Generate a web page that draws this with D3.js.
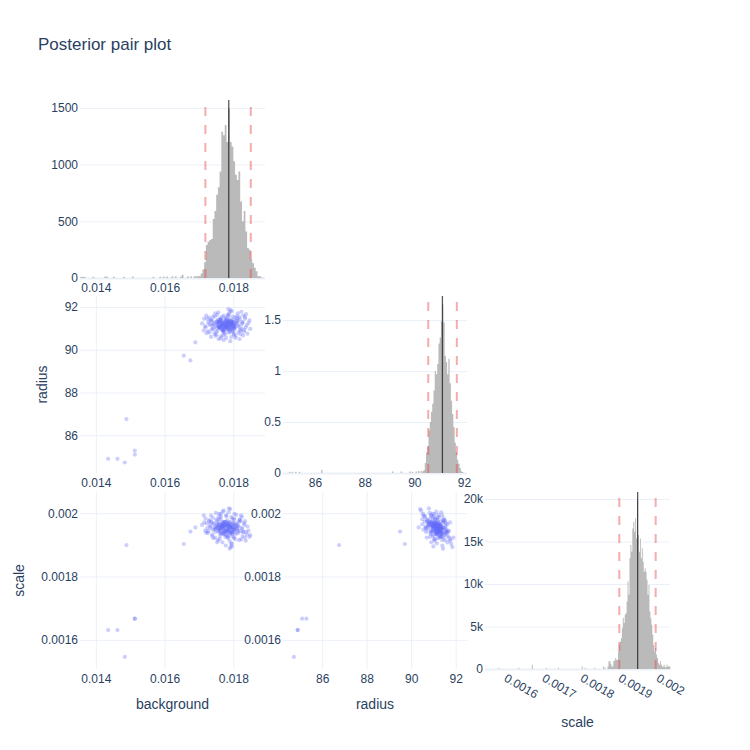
<!DOCTYPE html>
<html><head><meta charset="utf-8">
<script src="https://cdn.jsdelivr.net/npm/d3@7"></script>
<style>body{margin:0;background:#fff}svg{display:block}</style>
</head><body><svg id="c" width="750" height="750"></svg>
<script>
// ---------- data ----------
const params = ["background", "radius", "scale"];
const title = "Posterior pair plot";

// posterior samples shown in the scatter panels
const bgPts = [
0.01784,0.01759,0.01809,0.01771,0.01791,0.01744,0.01819,0.01779,0.01764,0.01801,
0.01734,0.01797,0.01774,0.01834,0.01751,0.01787,0.01767,0.01812,0.01729,0.01781,
0.01804,0.01761,0.01824,0.01741,0.01794,0.01777,0.01839,0.01754,0.01789,0.01719,
0.01814,0.01769,0.01799,0.01749,0.01779,0.01827,0.01737,0.01785,0.01757,0.01807,
0.01773,0.01817,0.01724,0.01793,0.01763,0.01831,0.01747,0.01782,0.01805,0.01731,
0.01844,0.01765,0.01797,0.01739,0.01788,0.01776,0.01821,0.01753,0.01809,0.01714,
0.01795,0.01770,0.01815,0.01759,0.01783,0.01829,0.01743,0.01803,0.01767,0.01849,
0.01727,0.01790,0.01755,0.01811,0.01772,0.01825,0.01735,0.01792,0.01761,0.01786,
0.01721,0.01806,0.01775,0.01841,0.01749,0.01798,0.01768,0.01819,0.01733,0.01780,
0.01813,0.01752,0.01802,0.01709,0.01836,0.01763,0.01791,0.01745,0.01823,0.01778,
0.01800,0.01740,0.01796,0.01756,0.01832,0.01771,0.01808,0.01718,0.01784,0.01760,
0.01818,0.01730,0.01794,0.01766,0.01847,0.01748,0.01787,0.01738,0.01810,0.01774,
0.01826,0.01758,0.01805,0.01722,0.01789,0.01764,0.01816,0.01746,0.01781,0.01837,
0.01753,0.01799,0.01735,0.01793,0.01777,0.01828,0.01742,0.01785,0.01769,0.01815,
0.01726,0.01803,0.01750,0.01822,0.01772,0.01796,0.01715,0.01782,0.01834,0.01757,
0.01782,0.01773,0.01789,0.01767,0.01794,0.01777,0.01799,0.01761,0.01785,0.01770,
0.01791,0.01757,0.01779,0.01803,0.01765,0.01787,0.01775,0.01796,0.01754,0.01781,
0.01769,0.01792,0.01772,0.01800,0.01763,0.01784,0.01759,0.01788,0.01778,0.01797,
0.01766,0.01783,0.01771,0.01793,0.01756,0.01790,0.01774,0.01801,0.01768,0.01780,
0.01795,0.01760,0.01786,0.01776,0.01798,0.01764,0.01789,0.01773,0.01805,0.01758,
0.01782,0.01770,0.01792,0.01762,0.01785,0.01767,0.01802,0.01779,0.01753,0.01788,
0.014358,0.014629,0.014843,0.014890,0.015134,0.015134,0.016558,0.016751,0.016895];
const radiusPts = [
91.05,91.30,91.37,90.85,91.20,91.03,90.90,91.50,91.15,90.75,
91.35,91.25,91.10,91.45,90.70,91.65,90.97,91.23,91.20,90.93,
91.07,91.43,91.00,91.55,90.60,91.33,91.15,90.87,91.75,91.05,
90.80,91.23,91.40,91.13,90.55,91.30,90.95,91.57,91.27,90.65,
90.77,91.53,91.45,91.10,90.53,90.85,91.70,91.17,91.03,90.80,
91.25,91.37,90.87,91.15,90.99,91.45,90.73,91.63,91.33,90.90,
91.80,90.67,91.12,91.07,91.27,91.60,91.25,90.95,91.53,90.97,
91.30,90.83,91.40,91.47,90.45,91.20,90.60,91.85,91.00,91.35,
91.60,90.55,91.15,90.75,90.83,91.55,90.90,91.43,91.15,91.03,
91.70,91.33,90.70,91.23,91.05,91.47,90.40,90.75,91.77,91.40,
91.13,90.97,91.30,91.75,90.93,90.87,91.23,91.10,91.63,91.07,
90.50,91.50,91.15,91.20,91.37,90.65,90.80,91.37,91.57,90.95,
91.27,91.05,91.50,90.77,91.43,90.63,91.07,91.55,91.25,91.67,
91.00,90.85,91.40,91.33,90.73,90.67,91.20,91.90,91.13,91.35,
90.87,91.15,91.30,90.90,91.60,91.00,91.45,91.10,91.53,90.50,
91.19,91.07,91.27,91.17,91.01,91.33,91.21,91.11,90.95,91.25,
91.15,91.29,91.03,91.09,91.37,91.23,90.99,91.31,91.13,91.39,
90.93,91.18,91.21,91.05,91.24,91.12,91.34,90.97,91.15,91.26,
91.06,91.30,90.90,91.35,91.19,91.08,91.28,91.00,91.16,91.04,
91.22,91.01,91.36,91.10,91.14,91.32,90.91,91.24,91.20,91.05,
91.27,91.13,90.96,91.38,91.17,90.98,91.29,91.07,91.23,91.33,
84.90,84.90,84.73,86.76,85.29,85.10,89.72,89.50,90.34];
const scalePts = [
0.001961,0.001948,0.001935,0.001973,0.001956,0.001968,0.001943,0.001931,0.001953,0.001978,
0.001958,0.001941,0.001963,0.001923,0.001981,0.001928,0.001959,0.001950,0.001975,0.001945,
0.001965,0.001938,0.001953,0.001948,0.001988,0.001925,0.001933,0.001955,0.001913,0.001983,
0.001961,0.001968,0.001948,0.001941,0.001993,0.001928,0.001971,0.001943,0.001988,0.001958,
0.001965,0.001915,0.001953,0.001935,0.001998,0.001968,0.001923,0.001978,0.001918,0.001963,
0.001945,0.001957,0.001983,0.001933,0.001951,0.001973,0.001975,0.001908,0.001963,0.001993,
0.001903,0.001953,0.001938,0.001981,0.001923,0.001941,0.001965,0.001998,0.001961,0.001931,
0.001943,0.001971,0.001915,0.001953,0.002008,0.001988,0.001973,0.001893,0.001928,0.002003,
0.001938,0.001948,0.001968,0.001958,0.002001,0.001933,0.001908,0.001978,0.001953,0.001991,
0.001945,0.001975,0.001923,0.001963,0.001913,0.001983,0.002013,0.001948,0.001918,0.001898,
0.001955,0.001985,0.001938,0.001971,0.001963,0.001935,0.001995,0.001945,0.001965,0.001918,
0.001981,0.001978,0.001905,0.001958,0.001925,0.001953,0.002015,0.001928,0.001968,0.001943,
0.001951,0.001998,0.001938,0.001968,0.001888,0.001991,0.001973,0.001955,0.001931,0.001941,
0.001961,0.001925,0.001993,0.001953,0.001973,0.001941,0.001921,0.001923,0.002005,0.001958,
0.001938,0.001983,0.001951,0.001993,0.001945,0.001895,0.001971,0.001961,0.001975,0.001965,
0.001950,0.001958,0.001945,0.001963,0.001959,0.001941,0.001955,0.001947,0.001967,0.001953,
0.001938,0.001961,0.001971,0.001949,0.001935,0.001957,0.001943,0.001965,0.001955,0.001951,
0.001973,0.001962,0.001939,0.001969,0.001956,0.001945,0.001948,0.001960,0.001965,0.001941,
0.001968,0.001947,0.001963,0.001953,0.001943,0.001957,0.001959,0.001951,0.001937,0.001961,
0.001943,0.001965,0.001945,0.001955,0.001967,0.001951,0.001971,0.001933,0.001959,0.001953,
0.001963,0.001949,0.001957,0.001939,0.001969,0.001959,0.001947,0.001941,0.001962,0.001937,
0.001631,0.001631,0.001546,0.0018995,0.001667,0.001667,0.0019027,0.001942,0.001955];

// histogram of background (counts)
const bgBinStart = 0.01700, bgBinWidth = 0.00005;
const bgCounts = [15,40,75,140,290,320,335,345,520,590,735,800,940,1290,1260,1350,1200,1495,1200,1160,
  1030,910,865,940,675,500,590,410,265,250,160,130,90,60,15,15,5,3];
const bgTailX = [0.01355,0.01360,0.01365,0.01390,0.01425,0.01430,0.01450,0.01480,0.01505,0.01565,0.01585,
  0.01595,0.01605,0.01620,0.01630,0.01645,0.01650,0.01665,0.01675,0.01685,0.01690,0.01695];
const bgTailCounts = [10,10,10,10,12,12,10,10,12,10,10,12,12,14,14,12,28,14,14,16,14,18];

// histogram of radius (probability density)
const radiusBinStart = 90.32, radiusBinWidth = 0.05;
const radiusDens = [0.016,0.03,0.097,0.2,0.26,0.42,0.5,0.6,0.68,0.81,1.0,0.97,1.07,1.27,1.33,1.49,1.654,
  1.48,1.15,1.09,0.97,1.12,0.88,0.71,0.58,0.45,0.3,0.2,0.13,0.09,0.05,0.016,0.01];
const radiusTailX = [84.95,85.05,85.20,85.35,86.25,89.10,89.45,89.80,89.90,90.05,90.15,90.25];
const radiusTailDens = [0.012,0.012,0.012,0.012,0.03,0.015,0.015,0.015,0.012,0.015,0.02,0.02];

// histogram of scale (counts)
const scaleBinStart = 0.00187, scaleBinWidth = 0.0000025;
const scaleCounts = [300,900,900,600,300,300,900,1000,1280,1100,1100,2070,2850,3200,3630,4800,6000,5400,
  6370,6570,7930,10280,8720,13020,14580,13800,16540,17320,16150,17720,15360,19830,15760,13800,15360,13020,
  14200,12630,11450,11840,11450,10500,8720,9890,6760,5980,5200,4030,2850,2070,2460,1680,1280,700,500,900,
  500,300,300,500,200,200,500,300,300,300];
const scaleTailX = [0.001583,0.001636,0.001671,0.001708,0.001740,0.001802,0.001810,0.001835,0.001858,0.001862];
const scaleTailCounts = [150,150,500,120,150,300,150,150,300,200];

// quantile lines: [low, median, high]
const bgLines = [0.017186, 0.017866, 0.018506];
const radiusLines = [90.56, 91.13, 91.71];
const scaleLines = [0.0019008, 0.001949, 0.0019963];

// ticks
const bgTicks = [0.014, 0.016, 0.018], bgTickLabels = ["0.014", "0.016", "0.018"];
const radiusTicks = [86, 88, 90, 92], radiusTickLabels = ["86", "88", "90", "92"];
const scaleTicks = [0.0016, 0.0018, 0.002], scaleTickLabels = ["0.0016", "0.0018", "0.002"];
const scaleHistTicks = [0.0016, 0.0017, 0.0018, 0.0019, 0.002];
const scaleHistTickLabels = ["0.0016", "0.0017", "0.0018", "0.0019", "0.002"];
const bgCountTicks = [0, 500, 1000, 1500], bgCountLabels = ["0", "500", "1000", "1500"];
const radiusDensTicks = [0, 0.5, 1, 1.5], radiusDensLabels = ["0", "0.5", "1", "1.5"];
const scaleCountTicks = [0, 5000, 10000, 15000, 20000], scaleCountLabels = ["0", "5k", "10k", "15k", "20k"];

// ---------- layout ----------
const FONT = '"Liberation Sans", Arial, sans-serif';
const TXT = "#2a3f5f", GRID = "#EBF0F8", BAR = "#bababa", RED = "rgba(230,70,70,0.45)", DOT = "#636efa";
const cols = [[80, 265], [283, 467], [485, 670]];
const rows = [[100, 278], [296, 473], [492, 669]];
const svg = d3.select("#c");

const bgDom = [0.01354, 0.01892], rDom = [84.24, 92.51], sDom = [0.001508, 0.002067];
const xBg = d3.scaleLinear().domain(bgDom).range(cols[0]);
const xR = d3.scaleLinear().domain(rDom).range(cols[1]);
const yR = d3.scaleLinear().domain(rDom).range([rows[1][1], rows[1][0]]);
const yS = d3.scaleLinear().domain(sDom).range([rows[2][1], rows[2][0]]);
const hxBg = d3.scaleLinear().domain(bgDom).range(cols[0]);
const hyBg = d3.scaleLinear().domain([0, 1570]).range([rows[0][1], rows[0][0]]);
const hxR = d3.scaleLinear().domain([84.71, 92.12]).range(cols[1]);
const hyR = d3.scaleLinear().domain([0, 1.737]).range([rows[1][1], rows[1][0]]);
const hxS = d3.scaleLinear().domain([0.001548, 0.002034]).range(cols[2]);
const hyS = d3.scaleLinear().domain([0, 20820]).range([rows[2][1], rows[2][0]]);

function styleAxis(g) {
  g.attr("font-family", null).attr("font-size", null);
  g.select(".domain").remove();
  g.selectAll(".tick line").attr("stroke", GRID).attr("stroke-width", 1);
  g.selectAll(".tick text").attr("fill", TXT).attr("font-size", 12).attr("font-family", FONT);
}

function drawAxes(ci, ri, x, y, o) {
  const [x0, x1] = cols[ci], [y0, y1] = rows[ri];
  const gy = svg.append("g").attr("transform", `translate(${x0},0)`)
    .call(d3.axisLeft(y).tickValues(o.yTicks).tickFormat((d, i) => o.yLabels[i])
      .tickSize(-(x1 - x0)).tickPadding(2));
  styleAxis(gy);
  gy.selectAll(".tick line").filter(d => d === 0).attr("stroke-width", 2);
  const gx = svg.append("g").attr("transform", `translate(0,${y1})`)
    .call(d3.axisBottom(x).tickValues(o.xTicks).tickFormat((d, i) => o.xLabels[i])
      .tickSize(o.xGrid ? -(y1 - y0) : 0).tickPadding(5.5));
  styleAxis(gx);
  if (!o.xGrid) gx.selectAll(".tick line").remove();
  if (o.rotate) {
    gx.selectAll(".tick text").attr("text-anchor", "start").attr("x", -2).attr("y", 11.5)
      .attr("dy", null).attr("transform", "rotate(30,-2,11.5)");
  }
}

function drawHist(x, y, start, width, vals, tailX, tailV) {
  const g = svg.append("g");
  const pts = vals.map((v, i) => [start + i * width, v]);
  pts.push([start + vals.length * width, vals[vals.length - 1]]);
  const area = d3.area().x(d => x(d[0])).y0(y(0)).y1(d => y(d[1])).curve(d3.curveStepAfter);
  g.append("path").attr("d", area(pts)).attr("fill", BAR);
  g.selectAll("rect").data(tailX.map((t, i) => ({ x0: t, v: tailV[i] }))).join("rect")
    .attr("x", d => x(d.x0))
    .attr("width", d => Math.max(0.8, x(d.x0 + width) - x(d.x0)))
    .attr("y", d => y(d.v))
    .attr("height", d => y(0) - y(d.v))
    .attr("fill", BAR);
}

function drawLines(ri, x, L) {
  const [y0, y1] = rows[ri];
  [L[0], L[2]].forEach(v => svg.append("line")
    .attr("x1", x(v)).attr("x2", x(v)).attr("y1", y1).attr("y2", y0)
    .attr("stroke", RED).attr("stroke-width", 2).attr("stroke-dasharray", "9,9"));
  svg.append("line").attr("x1", x(L[1])).attr("x2", x(L[1])).attr("y1", y1).attr("y2", y0)
    .attr("stroke", "rgba(0,0,0,0.65)").attr("stroke-width", 1.3);
}

function drawScatter(ci, ri, x, y, xs, ys, id) {
  const [x0, x1] = cols[ci], [y0, y1] = rows[ri];
  svg.append("clipPath").attr("id", id).append("rect")
    .attr("x", x0).attr("y", y0).attr("width", x1 - x0).attr("height", y1 - y0);
  svg.append("g").attr("clip-path", `url(#${id})`).selectAll("circle")
    .data(d3.range(xs.length)).join("circle")
    .attr("cx", i => x(xs[i])).attr("cy", i => y(ys[i])).attr("r", 2.1)
    .attr("fill", DOT).attr("fill-opacity", 0.33);
}

// axes / grids
drawAxes(0, 0, hxBg, hyBg, { yTicks: bgCountTicks, yLabels: bgCountLabels, xTicks: bgTicks, xLabels: bgTickLabels, xGrid: false });
drawAxes(0, 1, xBg, yR, { yTicks: radiusTicks, yLabels: radiusTickLabels, xTicks: bgTicks, xLabels: bgTickLabels, xGrid: true });
drawAxes(1, 1, hxR, hyR, { yTicks: radiusDensTicks, yLabels: radiusDensLabels, xTicks: radiusTicks, xLabels: radiusTickLabels, xGrid: false });
drawAxes(0, 2, xBg, yS, { yTicks: scaleTicks, yLabels: scaleTickLabels, xTicks: bgTicks, xLabels: bgTickLabels, xGrid: true });
drawAxes(1, 2, xR, yS, { yTicks: scaleTicks, yLabels: scaleTickLabels, xTicks: radiusTicks, xLabels: radiusTickLabels, xGrid: true });
drawAxes(2, 2, hxS, hyS, { yTicks: scaleCountTicks, yLabels: scaleCountLabels, xTicks: scaleHistTicks, xLabels: scaleHistTickLabels, xGrid: false, rotate: true });

// histograms
drawHist(hxBg, hyBg, bgBinStart, bgBinWidth, bgCounts, bgTailX, bgTailCounts);
drawLines(0, hxBg, bgLines);
drawHist(hxR, hyR, radiusBinStart, radiusBinWidth, radiusDens, radiusTailX, radiusTailDens);
drawLines(1, hxR, radiusLines);
drawHist(hxS, hyS, scaleBinStart, scaleBinWidth, scaleCounts, scaleTailX, scaleTailCounts);
drawLines(2, hxS, scaleLines);

// scatters
drawScatter(0, 1, xBg, yR, bgPts, radiusPts, "c01");
drawScatter(0, 2, xBg, yS, bgPts, scalePts, "c02");
drawScatter(1, 2, xR, yS, radiusPts, scalePts, "c12");

// titles
const txt = (x, y, s, size, rot) => {
  const t = svg.append("text").attr("fill", TXT).attr("font-family", FONT).attr("font-size", size).text(s);
  if (rot) t.attr("text-anchor", "middle").attr("transform", `translate(${x},${y}) rotate(-90)`);
  else t.attr("x", x).attr("y", y);
  return t;
};
txt(38, 50, title, 17);
txt((cols[0][0] + cols[0][1]) / 2, 709, params[0], 14).attr("text-anchor", "middle");
txt((cols[1][0] + cols[1][1]) / 2, 709, params[1], 14).attr("text-anchor", "middle");
txt((cols[2][0] + cols[2][1]) / 2, 727, params[2], 14).attr("text-anchor", "middle");
txt(47, (rows[1][0] + rows[1][1]) / 2, params[1], 14, true);
txt(24, (rows[2][0] + rows[2][1]) / 2, params[2], 14, true);
</script></body></html>
